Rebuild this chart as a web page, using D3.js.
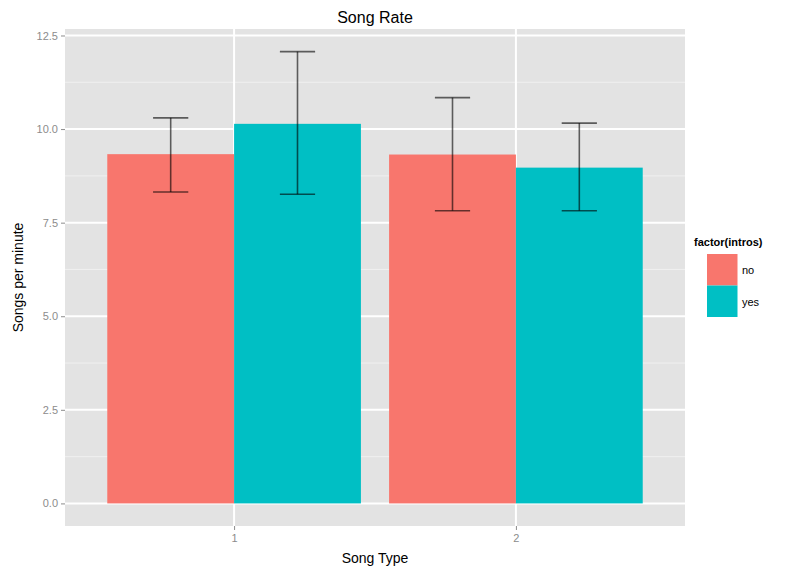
<!DOCTYPE html>
<html>
<head>
<meta charset="utf-8">
<script src="https://cdn.jsdelivr.net/npm/d3@7"></script>
<style>
  body { margin: 0; background: #fff; }
  text { font-family: "Liberation Sans", Arial, sans-serif; }
</style>
</head>
<body>
<div id="chart"></div>
<script>
// data
const songTypes = ["1", "2"];
const intros = ["no", "yes"];
const rateNo = [9.33, 9.32];
const rateYes = [10.14, 8.97];
const lowNo = [8.32, 7.82];
const highNo = [10.30, 10.84];
const lowYes = [8.26, 7.82];
const highYes = [12.07, 10.16];
const yTicks = [0, 2.5, 5, 7.5, 10, 12.5];

const colors = { no: "#F8766D", yes: "#00BFC4" };

const width = 788, height = 571;
const panel = { left: 65, right: 685, top: 29, bottom: 526 };

const rows = [];
songTypes.forEach((t, i) => {
  rows.push({ type: t, intros: "no", rate: rateNo[i], lo: lowNo[i], hi: highNo[i] });
  rows.push({ type: t, intros: "yes", rate: rateYes[i], lo: lowYes[i], hi: highYes[i] });
});

const svg = d3.select("#chart")
  .append("svg")
  .attr("width", width)
  .attr("height", height);

// discrete positions 1..n with 0.6 added each side, like ggplot
const xPos = d3.scaleLinear().domain([0.4, songTypes.length + 0.6]).range([panel.left, panel.right]);
const xDodge = d3.scaleBand().domain(intros).range([-0.45, 0.45]);

const yMax = d3.max(highYes.concat(highNo));
const pad = yMax * 0.05;
const y = d3.scaleLinear().domain([-pad, yMax + pad]).range([panel.bottom, panel.top]);

// panel background
svg.append("rect")
  .attr("x", panel.left).attr("y", panel.top)
  .attr("width", panel.right - panel.left)
  .attr("height", panel.bottom - panel.top)
  .attr("fill", "#e3e3e3");

// minor grid
const minor = yTicks.slice(0, -1).map(d => d + 1.25);
svg.append("g").selectAll("line").data(minor).enter().append("line")
  .attr("x1", panel.left).attr("x2", panel.right)
  .attr("y1", d => y(d)).attr("y2", d => y(d))
  .attr("stroke", "#f0f0f0").attr("stroke-width", 1);

// major grid
svg.append("g").selectAll("line").data(yTicks).enter().append("line")
  .attr("x1", panel.left).attr("x2", panel.right)
  .attr("y1", d => y(d)).attr("y2", d => y(d))
  .attr("stroke", "#fff").attr("stroke-width", 2);
svg.append("g").selectAll("line").data(songTypes).enter().append("line")
  .attr("x1", (d, i) => xPos(i + 1)).attr("x2", (d, i) => xPos(i + 1))
  .attr("y1", panel.top).attr("y2", panel.bottom)
  .attr("stroke", "#fff").attr("stroke-width", 2);

// bars
const center = d => xPos(songTypes.indexOf(d.type) + 1);
const unit = xPos(1) - xPos(0);
svg.append("g").selectAll("rect").data(rows).enter().append("rect")
  .attr("x", d => center(d) + xDodge(d.intros) * unit)
  .attr("width", xDodge.bandwidth() * unit)
  .attr("y", d => y(d.rate))
  .attr("height", d => y(0) - y(d.rate))
  .attr("fill", d => colors[d.intros]);

// error bars
const capHalf = 0.0625 * unit;
const eb = svg.append("g").selectAll("g").data(rows).enter().append("g")
  .attr("stroke", "#000").attr("stroke-opacity", 0.6).attr("stroke-width", 1.6);
const ebX = d => center(d) + (xDodge(d.intros) + xDodge.bandwidth() / 2) * unit;
eb.append("line")
  .attr("x1", ebX).attr("x2", ebX)
  .attr("y1", d => y(d.lo)).attr("y2", d => y(d.hi));
eb.append("line")
  .attr("x1", d => ebX(d) - capHalf).attr("x2", d => ebX(d) + capHalf)
  .attr("y1", d => y(d.hi)).attr("y2", d => y(d.hi));
eb.append("line")
  .attr("x1", d => ebX(d) - capHalf).attr("x2", d => ebX(d) + capHalf)
  .attr("y1", d => y(d.lo)).attr("y2", d => y(d.lo));

// y axis
const yAxis = svg.append("g")
  .attr("transform", "translate(" + panel.left + ",0)")
  .call(d3.axisLeft(y).tickValues(yTicks).tickFormat(d3.format(".1f")).tickSize(4).tickPadding(3));
yAxis.select(".domain").remove();
yAxis.selectAll("line").attr("stroke", "#8c8c8c");
yAxis.selectAll("text").attr("fill", "#8c8c8c").style("font-size", "11px");

// x axis
const xAxis = svg.append("g")
  .attr("transform", "translate(0," + panel.bottom + ")")
  .call(d3.axisBottom(xPos).tickValues([1, 2]).tickFormat((d, i) => songTypes[i]).tickSize(4).tickPadding(4));
xAxis.select(".domain").remove();
xAxis.selectAll("line").attr("stroke", "#8c8c8c");
xAxis.selectAll("text").attr("fill", "#8c8c8c").style("font-size", "11px");

// titles
svg.append("text")
  .attr("x", (panel.left + panel.right) / 2).attr("y", 23)
  .attr("text-anchor", "middle")
  .style("font-size", "16px")
  .text("Song Rate");

svg.append("text")
  .attr("x", (panel.left + panel.right) / 2).attr("y", 563)
  .attr("text-anchor", "middle")
  .style("font-size", "14px")
  .text("Song Type");

svg.append("text")
  .attr("transform", "translate(23," + (panel.top + panel.bottom) / 2 + ") rotate(-90)")
  .attr("text-anchor", "middle")
  .style("font-size", "14px")
  .text("Songs per minute");

// legend
const legend = svg.append("g").attr("transform", "translate(694,246)");
legend.append("text")
  .attr("x", 0).attr("y", 0)
  .style("font-size", "11px").style("font-weight", "bold")
  .text("factor(intros)");
intros.forEach((k, i) => {
  legend.append("rect")
    .attr("x", 13).attr("y", 8 + i * 31.5)
    .attr("width", 30.5).attr("height", 31.5)
    .attr("fill", colors[k]);
  legend.append("text")
    .attr("x", 48).attr("y", 8 + i * 31.5 + 20)
    .style("font-size", "11px")
    .text(k);
});
</script>
</body>
</html>
